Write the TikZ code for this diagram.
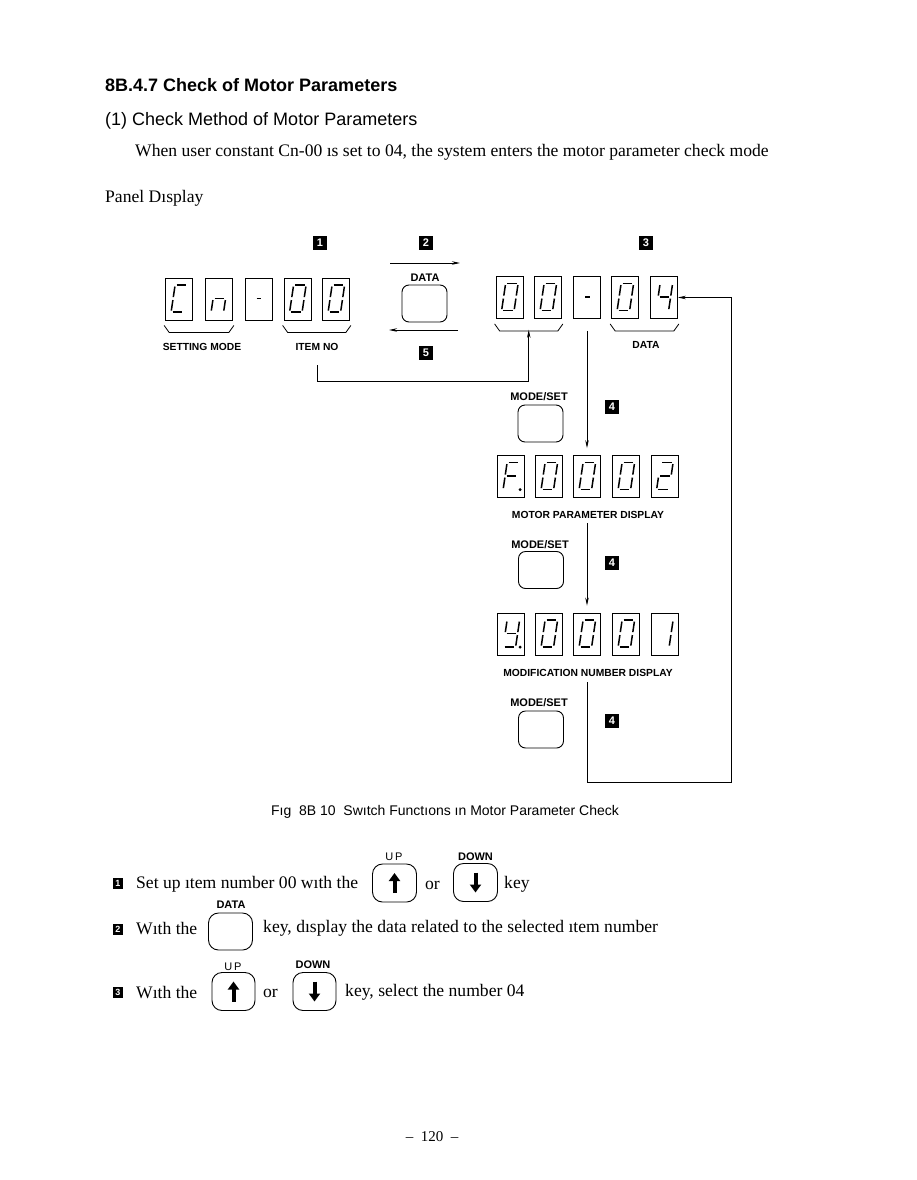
\documentclass[tikz,border=0pt]{standalone}
\usepackage{fontspec}
\setmainfont{Liberation Serif}
\setsansfont{Liberation Sans}
\usetikzlibrary{arrows.meta,calc}

\tikzset{
  digitbox/.style={draw, line width=0.8pt, minimum width=27pt, minimum height=42pt, inner sep=0pt},
  segline/.style={line width=1.5pt, shorten <=1.5pt, shorten >=1.5pt},
  keybox/.style={draw, line width=0.9pt, rounded corners=7pt, minimum width=45pt, minimum height=37pt, inner sep=0pt},
  bigkey/.style={keybox, minimum width=44pt, minimum height=38pt, rounded corners=10pt},
  marker/.style={fill=black, text=white, font=\sffamily\bfseries\fontsize{11}{11}\selectfont, minimum width=14pt, minimum height=14pt, inner sep=0pt},
  smallmark/.style={marker, font=\sffamily\bfseries\fontsize{9}{9}\selectfont, minimum width=10pt, minimum height=11pt},
  tag/.style={font=\sffamily\bfseries\fontsize{10.3}{10.3}\selectfont, inner sep=0pt},
  keytag/.style={tag, font=\sffamily\bfseries\fontsize{11}{11}\selectfont},
  txt/.style={anchor=west, inner sep=0pt, font=\fontsize{17.6}{17.6}\selectfont},
  brace/.style={line width=0.8pt},
  link/.style={line width=0.8pt},
  keyarrow/.style={line width=4pt, -{Triangle[length=8pt,width=11pt]}},
  % seven segment pieces, measured from the box corner
  pics/seg-a/.style={code={\draw[segline] (10,7.5) -- (22.5,7.5);}},
  pics/seg-b/.style={code={\draw[segline] (22.5,7.5) -- (20.5,21);}},
  pics/seg-c/.style={code={\draw[segline] (20.5,21) -- (18.5,34.5);}},
  pics/seg-d/.style={code={\draw[segline] (6,34.5) -- (18.5,34.5);}},
  pics/seg-e/.style={code={\draw[segline] (8,21) -- (6,34.5);}},
  pics/seg-f/.style={code={\draw[segline] (10,7.5) -- (8,21);}},
  pics/seg-g/.style={code={\draw[segline] (8,21) -- (20.5,21);}},
  pics/seg-h/.style={code={\draw[segline] (10.5,21) -- (18,21);}},
  pics/seg-p/.style={code={\fill (23,34.5) circle[radius=1.6pt];}},
}

% one display digit: name, x, y, segments
\newcommand\segdigit[4]{%
  \node[digitbox] (#1) at (#2,#3) {};
  \foreach \s in {#4} {\pic at (#1.north west) {seg-\s};}
}
% bracket under a group of digits
\newcommand\groupbrace[2]{%
  \draw[brace] ($(#1.south west)+(-1,5)$) -- ++(5,7) -- ($(#2.south east)+(-4,12)$) -- ++(5,-7);
}

\begin{document}
\begin{tikzpicture}[>={Stealth[length=8pt,width=3.5pt]}, x=1pt, y=-1pt]
    \useasboundingbox (0,0) rectangle (916,1180);

    % Heading
    \node[txt, font=\sffamily\bfseries\fontsize{18}{18}\selectfont] (title) at (105,85) {8B.4.7 Check of Motor Parameters};
    \node[txt, font=\sffamily\fontsize{18}{18}\selectfont] (subtitle) at (105,121) {(1) Check Method of Motor Parameters};
    \node[txt] (intro) at (135,152) {When user constant Cn-00 ıs set to 04, the system enters the motor parameter check mode};
    \node[txt] (panel) at (105,198) {Panel Dısplay};

    % Step markers
    \node[marker] (m1) at (320,243) {1};
    \node[marker] (m2) at (426,243) {2};
    \node[marker] (m3) at (646,243) {3};
    \node[marker] (m5) at (426,353) {5};

    % Setting mode display
    \segdigit{c1}{179}{299}{a,d,e,f}
    \segdigit{c2}{219}{299}{c,e,g}
    \segdigit{c3}{258.5}{299}{h}
    \segdigit{c4}{297.5}{299}{a,b,c,d,e,f}
    \segdigit{c5}{336}{299}{a,b,c,d,e,f}
    \groupbrace{c1}{c2}
    \groupbrace{c4}{c5}
    \node[tag] (setmode) at (202,347) {SETTING MODE};
    \node[tag] (itemno) at (317,347) {ITEM NO};

    % DATA key
    \node[keytag] (datalbl) at (425,278) {DATA};
    \node[keybox] (datakey) at (424.5,303.5) {};
    \coordinate (fwdL) at (390,263);
    \coordinate (fwdR) at (460,263);
    \draw[link,->] (fwdL) -- (fwdR);
    \coordinate (backR) at (458,330);
    \coordinate (backL) at (389,330);
    \draw[link,->] (backR) -- (backL);

    % Data display
    \segdigit{r1}{509.5}{297.5}{a,b,c,d,e,f}
    \segdigit{r2}{548}{297.5}{a,b,c,d,e,f}
    \segdigit{r3}{587}{297.5}{h}
    \segdigit{r4}{625}{297.5}{a,b,c,d,e,f}
    \segdigit{r5}{664}{297.5}{b,c,f,g}
    \groupbrace{r1}{r2}
    \groupbrace{r4}{r5}
    \node[tag] (datatag) at (646,345) {DATA};

    % Back to item number
    \coordinate (itemtail) at (317,365);
    \coordinate (grpmid) at ($(r1.south east)!0.5!(r2.south west)+(0,11)$);
    \draw[link,->] (itemtail) -- ++(0,16) -| (grpmid);

    % Motor parameter display
    \node[keytag] (mset1) at (539,397) {MODE/SET};
    \node[keybox] (key1) at (540.5,423.5) {};
    \node[marker] (m4a) at (612,407) {4};
    \coordinate (down1) at ($(r3.south)+(0,12)$);
    \segdigit{f1}{511}{476.5}{a,e,f,g,p}
    \segdigit{f2}{549}{476.5}{a,b,c,d,e,f}
    \segdigit{f3}{587}{476.5}{a,b,c,d,e,f}
    \segdigit{f4}{626}{476.5}{a,b,c,d,e,f}
    \segdigit{f5}{664.5}{476.5}{a,b,d,e,g}
    \draw[link,->,shorten >=7pt] (down1) -- (f3.north);
    \node[tag] (motorlbl) at (588,515) {MOTOR PARAMETER DISPLAY};

    % Modification number display
    \node[keytag] (mset2) at (540,545) {MODE/SET};
    \node[keybox] (key2) at (541,570) {};
    \node[marker] (m4b) at (612,563) {4};
    \coordinate (down2) at (587,523);
    \segdigit{y1}{511}{634}{b,c,d,f,g,p}
    \segdigit{y2}{549}{634}{a,b,c,d,e,f}
    \segdigit{y3}{587}{634}{a,b,c,d,e,f}
    \segdigit{y4}{626}{634}{a,b,c,d,e,f}
    \segdigit{y5}{664.5}{634}{b,c}
    \draw[link,->,shorten >=7pt] (down2) -- (y3.north);
    \node[tag] (modlbl) at (588,673) {MODIFICATION NUMBER DISPLAY};

    % Return loop to data
    \node[keytag] (mset3) at (539,703) {MODE/SET};
    \node[keybox] (key3) at (541,729.5) {};
    \node[marker] (m4c) at (612,721) {4};
    \coordinate (looptail) at (587,682);
    \coordinate (loopcorner) at (731,782);
    \draw[link,->] (looptail) |- (loopcorner) |- (r5.east);

    % Caption
    \node[font=\sffamily\fontsize{14}{14}\selectfont, inner sep=0pt] (caption) at (445,812) {Fıg\ \ 8B 10\ \ Swıtch Functıons ın Motor Parameter Check};

    % Step 1
    \node[smallmark] (b1) at (118,883) {1};
    \node[txt] (s1) at (136,884) {Set up ıtem number 00 wıth the};
    \node[tag, font=\sffamily\fontsize{11}{11}\selectfont] (up1lbl) at (394,857) {U\,P};
    \node[bigkey] (up1) at (394.5,883) {};
    \draw[keyarrow] ($(up1.center)+(0,10)$) -- ($(up1.center)+(0,-10)$);
    \node[txt, anchor=center] (or1) at (432.5,885) {or};
    \node[keytag] (dn1lbl) at (475.5,857) {DOWN};
    \node[bigkey] (dn1) at (475.5,882.5) {};
    \draw[keyarrow] ($(dn1.center)+(0,-10)$) -- ($(dn1.center)+(0,10)$);
    \node[txt] (key1txt) at (504,884) {key};

    % Step 2
    \node[smallmark] (b2) at (118,929) {2};
    \node[txt] (s2) at (136,929) {Wıth the};
    \node[keytag] (data2lbl) at (231,905) {DATA};
    \node[bigkey, minimum height=37pt] (data2) at (230.5,931.5) {};
    \node[txt] (s2b) at (263,928) {key, dısplay the data related to the selected ıtem number};

    % Step 3
    \node[smallmark] (b3) at (118,992) {3};
    \node[txt] (s3) at (136,993) {Wıth the};
    \node[tag, font=\sffamily\fontsize{11}{11}\selectfont] (up3lbl) at (233,967) {U\,P};
    \node[bigkey, minimum width=43pt] (up3) at (233.5,991.5) {};
    \draw[keyarrow] ($(up3.center)+(0,10)$) -- ($(up3.center)+(0,-10)$);
    \node[txt, anchor=center] (or3) at (270.5,993) {or};
    \node[keytag] (dn3lbl) at (313,965) {DOWN};
    \node[bigkey, minimum width=43pt] (dn3) at (314.5,991.5) {};
    \draw[keyarrow] ($(dn3.center)+(0,-10)$) -- ($(dn3.center)+(0,10)$);
    \node[txt] (s3b) at (345,992) {key, select the number 04};

    % Page number
    \node[font=\fontsize{15}{15}\selectfont, inner sep=0pt] (page) at (432,1137) {–\enspace 120\enspace –};
\end{tikzpicture}
\end{document}
